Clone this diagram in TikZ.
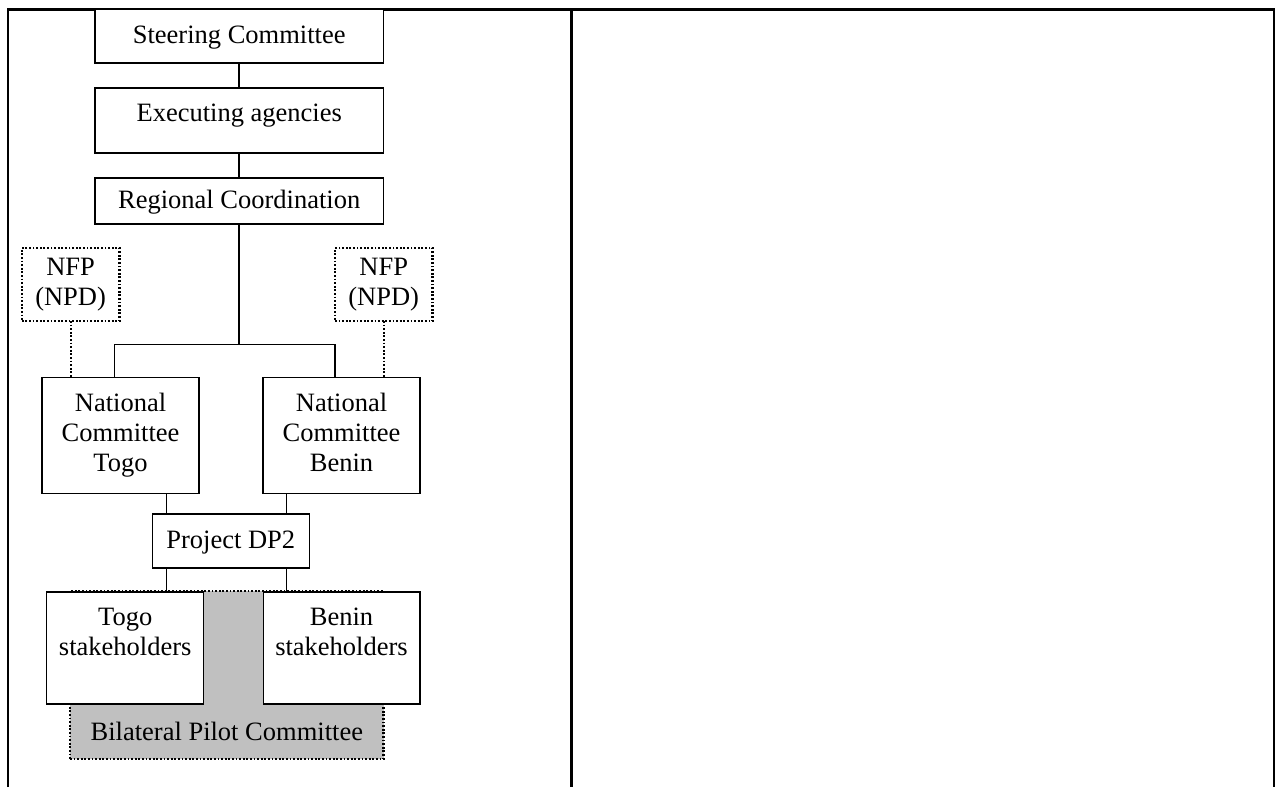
\documentclass[tikz,border=0pt]{standalone}
\usepackage{fontspec}
\setmainfont{Liberation Serif}
\definecolor{pilotgray}{RGB}{192,192,192}
\tikzset{
  labeltext/.style={inner sep=0pt, outer sep=0pt, align=center,
    font=\fontsize{26.5pt}{30pt}\selectfont},
  box/.style={labeltext, draw, line width=1.5pt, fill=white, text depth=6pt},
  oneline/.style={text height=21pt},
  dotbox/.style={box, line width=2.2pt, dash pattern=on 1.8pt off 1.8pt},
  link/.style={line width=1.5pt},
  dotlink/.style={line width=2.2pt, dash pattern=on 1.8pt off 1.8pt},
  tableframe/.style={line width=2.2pt},
}
\begin{document}
\begin{tikzpicture}[x=1pt, y=-1pt]
\useasboundingbox (0,0) rectangle (1276,787);

% table cell borders
\draw[tableframe] (8.3,787) -- (8.3,9.5) -- (1274.2,9.5) -- (1274.2,787);
\draw[tableframe] (571.4,9.5) -- (571.4,787);

% upper chain
\node[box, oneline, minimum width=288.6pt, minimum height=54pt] (steer) at (239.2,36) {Steering Committee};
\node[box, minimum width=288.6pt, minimum height=65pt] (exec) at (239.2,120.5) {};
\node[labeltext, anchor=base] (execT) at ([yshift=-1.2pt]exec.center) {Executing agencies};
\node[box, oneline, minimum width=288.6pt, minimum height=46pt] (reg) at (239.2,201) {Regional Coordination};

% national focal points
\node[dotbox, minimum width=97.6pt, minimum height=73pt] (nfpL) at (70.6,284.5) {NFP\\(NPD)};
\node[dotbox, minimum width=97.6pt, minimum height=73pt] (nfpR) at (383.7,284.5) {NFP\\(NPD)};

% national committees
\node[box, minimum width=157pt, minimum height=116pt] (natT) at (120.5,435.3) {National\\Committee\\Togo};
\node[box, minimum width=157pt, minimum height=116pt] (natB) at (341.5,435.3) {National\\Committee\\Benin};

% project
\node[box, oneline, minimum width=157pt, minimum height=54pt] (dp2) at (230.8,540.8) {Project DP2};

% bilateral committee behind the stakeholder boxes
\node[dotbox, fill=pilotgray, minimum width=313.5pt, minimum height=168pt] (bil) at (226.8,675) {};
\node[labeltext, anchor=base] (bilT) at ([yshift=-65pt]bil.center) {Bilateral Pilot Committee};

% stakeholders
\node[box, minimum width=157pt, minimum height=112.3pt] (tS) at (125.2,647.9) {};
\node[box, minimum width=156.5pt, minimum height=112.3pt] (bS) at (341.5,647.9) {};
\node[labeltext, anchor=north] (tST) at ([yshift=-16pt]tS.north) {Togo\\stakeholders};
\node[labeltext, anchor=north] (bST) at ([yshift=-16pt]bS.north) {Benin\\stakeholders};

% connectors
\draw[link] (steer.south) -- (exec.north);
\draw[link] (exec.south) -- (reg.north);
\coordinate (bus) at (239.2,344.7);
\draw[link] (reg.south) -- (bus);
\draw[link] ([xshift=-6.2pt]natT.north) |- (bus) -| ([xshift=-6.5pt]natB.north);
\draw[dotlink] (nfpL.south) -- (nfpL.south |- natT.north);
\draw[dotlink] (nfpR.south) -- (nfpR.south |- natB.north);
\draw[link] ([xshift=46.2pt]natT.south) -- ([xshift=46.2pt]natT.south |- dp2.north);
\draw[link] ([xshift=-54.8pt]natB.south) -- ([xshift=-54.8pt]natB.south |- dp2.north);
\draw[link] ([xshift=-64.1pt]dp2.south) -- ([xshift=-64.1pt]dp2.south |- tS.north);
\draw[link] ([xshift=55.9pt]dp2.south) -- ([xshift=55.9pt]dp2.south |- bS.north);
\end{tikzpicture}
\end{document}
